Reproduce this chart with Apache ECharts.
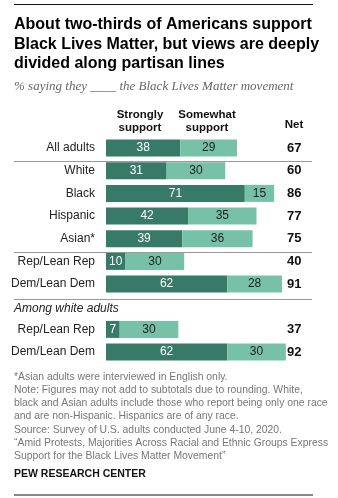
<!DOCTYPE html>
<html><head><meta charset="utf-8">
<script src="https://cdn.jsdelivr.net/npm/echarts@6/dist/echarts.min.js"></script>
<style>html,body{margin:0;padding:0;background:#fff}#c{width:338px;height:498px}</style>
</head><body><div id="c"></div>
<script>
const categories = ['All adults','White','Black','Hispanic','Asian*','Rep/Lean Rep','Dem/Lean Dem','','Rep/Lean Rep','Dem/Lean Dem'];
const strongly = [38,31,71,42,39,10,62,null,7,62];
const somewhat = [29,30,15,35,36,30,28,null,30,30];
const net = [67,60,86,77,75,40,91,null,37,92];

const chart = echarts.init(document.getElementById('c'));
const F = '"Liberation Sans", Arial, sans-serif';
const keys = categories.map((c,i)=>'k'+i);
const dark = '#387a68', light = '#78c1a9';
function txt(x,y,t,s){return {type:'text',x:x,y:y,style:Object.assign({text:t,font:'12px '+F,fill:'#222',textVerticalAlign:'middle'},s||{})};}
function line(y,c,w,x1,x2){return {type:'line',shape:{x1:x1||14,y1:y,x2:x2||312,y2:y},style:{stroke:c,lineWidth:w||1}};}
const foot = ['*Asian adults were interviewed in English only.',
'Note: Figures may not add to subtotals due to rounding. White,',
'black and Asian adults include those who report being only one race',
'and are non-Hispanic. Hispanics are of any race.',
'Source: Survey of U.S. adults conducted June 4-10, 2020.',
'\u201cAmid Protests, Majorities Across Racial and Ethnic Groups Express',
'Support for the Black Lives Matter Movement\u201d'];
const footY = [377,390.5,403.5,416.5,430,443,456];
const graphics = [
  line(4.5,'#111',1,14,313),
  line(495,'#111',1,14,313),
  txt(14,25,'About two-thirds of Americans support',{font:'bold 16px '+F,fill:'#000'}),
  txt(14,44.5,'Black Lives Matter, but views are deeply',{font:'bold 16px '+F,fill:'#000'}),
  txt(14,64,'divided along partisan lines',{font:'bold 16px '+F,fill:'#000'}),
  txt(14,87,'% saying they ____ the Black Lives Matter movement',{font:'italic 13px "Liberation Serif", "Times New Roman", serif',fill:'#666'}),
  txt(140,115,'Strongly',{font:'bold 11.5px '+F,fill:'#111',textAlign:'center'}),
  txt(140,128,'support',{font:'bold 11.5px '+F,fill:'#111',textAlign:'center'}),
  txt(207,115,'Somewhat',{font:'bold 11.5px '+F,fill:'#111',textAlign:'center'}),
  txt(207,128,'support',{font:'bold 11.5px '+F,fill:'#111',textAlign:'center'}),
  txt(294,125,'Net',{font:'bold 11.5px '+F,fill:'#111',textAlign:'center'}),
  line(161.5,'#999',1.2), line(252.5,'#999',1.2), line(299.5,'#999',1.2),
  txt(14,309,'Among white adults',{font:'italic 12px '+F,fill:'#222'}),
  txt(14,474,'PEW RESEARCH CENTER',{font:'bold 10.5px '+F,fill:'#111'})
];
foot.forEach((t,i)=>graphics.push(txt(14,footY[i],t,{font:'10.4px '+F,fill:'#777'})));

chart.setOption({
  animation:false,
  grid:{left:106,top:136.7,width:195.5,height:226.7,containLabel:false},
  xAxis:{type:'value',min:0,max:100,show:false},
  yAxis:[{type:'category',data:keys,inverse:true,axisLine:{show:false},axisTick:{show:false},
    axisLabel:{margin:11,fontSize:12,fontFamily:F,color:'#222',formatter:(v,i)=>categories[i]}},
    {type:'category',data:keys,inverse:true,position:'right',axisLine:{show:false},axisTick:{show:false},
    axisLabel:{inside:true,margin:0,fontSize:13,fontWeight:'bold',fontFamily:F,color:'#111',
      formatter:(v,i)=>net[i]==null?'':String(net[i])}}],
  series:[
    {type:'bar',stack:'s',data:strongly,barWidth:17,itemStyle:{color:dark},
      label:{show:true,position:'inside',color:'#fff',fontSize:12,fontFamily:F}},
    {type:'bar',stack:'s',data:somewhat,barWidth:17,itemStyle:{color:light},
      label:{show:true,position:'inside',color:'#222',fontSize:12,fontFamily:F}}
  ],
  graphic:graphics
});
</script></body></html>
